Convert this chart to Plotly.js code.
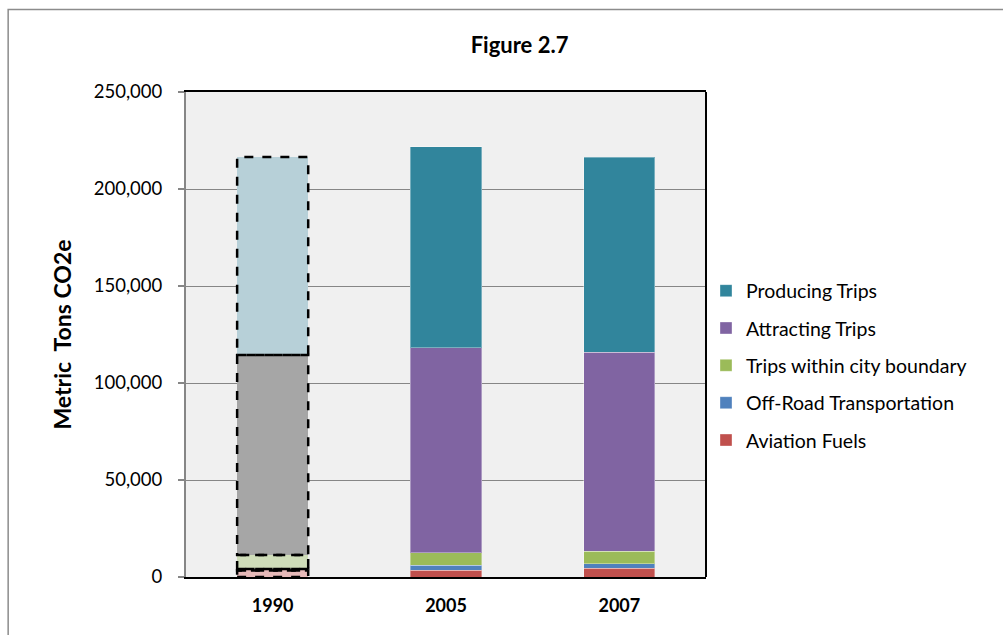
<!DOCTYPE html>
<html>
<head>
<meta charset="utf-8">
<script src="https://cdn.plot.ly/plotly-3.0.1.min.js"></script>
<style>
  html, body { margin: 0; padding: 0; background: #ffffff; }
  #chart { width: 1003px; height: 635px; }
</style>
</head>
<body>
<div id="chart"></div>
<script>
// Transportation emissions by source (metric tons CO2e)
const years = ['1990', '2005', '2007'];
const seriesNames = ['Aviation Fuels', 'Off-Road Transportation', 'Trips within city boundary', 'Attracting Trips', 'Producing Trips'];
const aviationFuels = [3400, 3600, 4400];
const offRoad = [700, 2400, 2500];
const tripsWithin = [7200, 6600, 6400];
const attractingTrips = [103100, 105600, 102500];
const producingTrips = [102100, 103600, 100500];
const yTickVals = [0, 50000, 100000, 150000, 200000, 250000];
const yTickText = ['0', '50,000', '100,000', '150,000', '200,000', '250,000'];

const seriesValues = [aviationFuels, offRoad, tripsWithin, attractingTrips, producingTrips];
const fullColors = ['#c0504d', '#4f81bd', '#9bbb59', '#8064a2', '#31859c'];
const baselineColors = ['#e6b9b8', '#b9cde5', '#cfddb9', '#a6a6a6', '#b7d0d8'];

const FONT = 'Lato, "Open Sans", sans-serif';
const BAR_GAP = 0.59;
const halfBar = (1 - BAR_GAP) / 2;

const traces = [];
// baseline year: faded fills, outlined separately with dashed borders
seriesValues.forEach((vals, i) => {
  traces.push({
    type: 'bar',
    x: [years[0]],
    y: [vals[0]],
    name: seriesNames[i],
    showlegend: false,
    hoverinfo: 'name+y',
    marker: { color: baselineColors[i], line: { width: 0 } }
  });
});
// later years: full colours, these carry the legend (top of stack listed first)
seriesValues.forEach((vals, i) => {
  traces.push({
    type: 'bar',
    x: years.slice(1),
    y: vals.slice(1),
    name: seriesNames[i],
    legendgroup: 'g' + i,
    legendrank: 1000 - i,
    hoverinfo: 'name+y',
    marker: { color: fullColors[i], line: { width: 1, color: 'rgba(255,255,255,0.35)' } }
  });
});

// dashed outlines around each baseline segment, from cumulative sums
const shapes = [];
let base = 0;
seriesValues.forEach((vals) => {
  const top = base + vals[0];
  shapes.push({
    type: 'rect', xref: 'x', yref: 'y',
    x0: -halfBar, x1: halfBar, y0: base, y1: top,
    line: { color: '#000000', width: 2.5, dash: 'dash' },
    fillcolor: 'rgba(0,0,0,0)', layer: 'above'
  });
  base = top;
});
// right edge of the plot frame
shapes.push({
  type: 'line', xref: 'paper', yref: 'paper',
  x0: 1, x1: 1, y0: 0, y1: 1,
  line: { color: '#000000', width: 2 }
});
// outer chart border
shapes.push({
  type: 'rect', xref: 'paper', yref: 'paper',
  x0: -0.342, x1: 1.6, y0: -0.3, y1: 1.170,
  line: { color: '#8c8c8c', width: 1.5 },
  fillcolor: 'rgba(0,0,0,0)', layer: 'below'
});

const layout = {
  width: 1003,
  height: 635,
  margin: { l: 186, r: 297, t: 92, b: 58 },
  paper_bgcolor: '#ffffff',
  plot_bgcolor: '#f0f0f0',
  barmode: 'stack',
  bargap: BAR_GAP,
  font: { family: FONT, color: '#000000', size: 18 },
  title: {
    text: '<b>Figure 2.7</b>',
    font: { family: FONT, size: 22, color: '#000000' },
    xref: 'container', yref: 'container',
    x: 0.518, xanchor: 'center',
    y: 0.929, yanchor: 'middle'
  },
  xaxis: {
    type: 'category',
    tickvals: years,
    ticktext: years.map(y => '<b>' + y + '</b>'),
    tickfont: { family: FONT, size: 18, color: '#000000' },
    showline: true, linecolor: '#000000', linewidth: 2, mirror: true,
    ticks: '', showgrid: false, zeroline: false,
    ticklabelstandoff: 11,
    fixedrange: true
  },
  yaxis: {
    range: [0, 250000],
    tickvals: yTickVals,
    ticktext: yTickText,
    tickfont: { family: FONT, size: 18.5, color: '#000000' },
    ticks: 'outside', ticklen: 6, tickcolor: '#868686', tickwidth: 1.5,
    showline: true, linecolor: '#868686', linewidth: 2,
    showgrid: true, gridcolor: '#868686', gridwidth: 1,
    zeroline: false,
    ticklabelstandoff: 12,
    title: {
      text: '<b>Metric  Tons CO2e</b>',
      font: { family: FONT, size: 23, color: '#000000' },
      standoff: 16
    },
    fixedrange: true
  },
  legend: {
    x: 1.0, xanchor: 'left',
    y: 0.63, yanchor: 'top',
    traceorder: 'grouped',
    tracegroupgap: 9,
    font: { family: FONT, size: 19.5, color: '#000000' },
    bgcolor: 'rgba(0,0,0,0)',
    itemclick: false, itemdoubleclick: false
  },
  shapes: shapes,
  showlegend: true
};

Plotly.newPlot('chart', traces, layout, { displayModeBar: false, staticPlot: true });
</script>
</body>
</html>
